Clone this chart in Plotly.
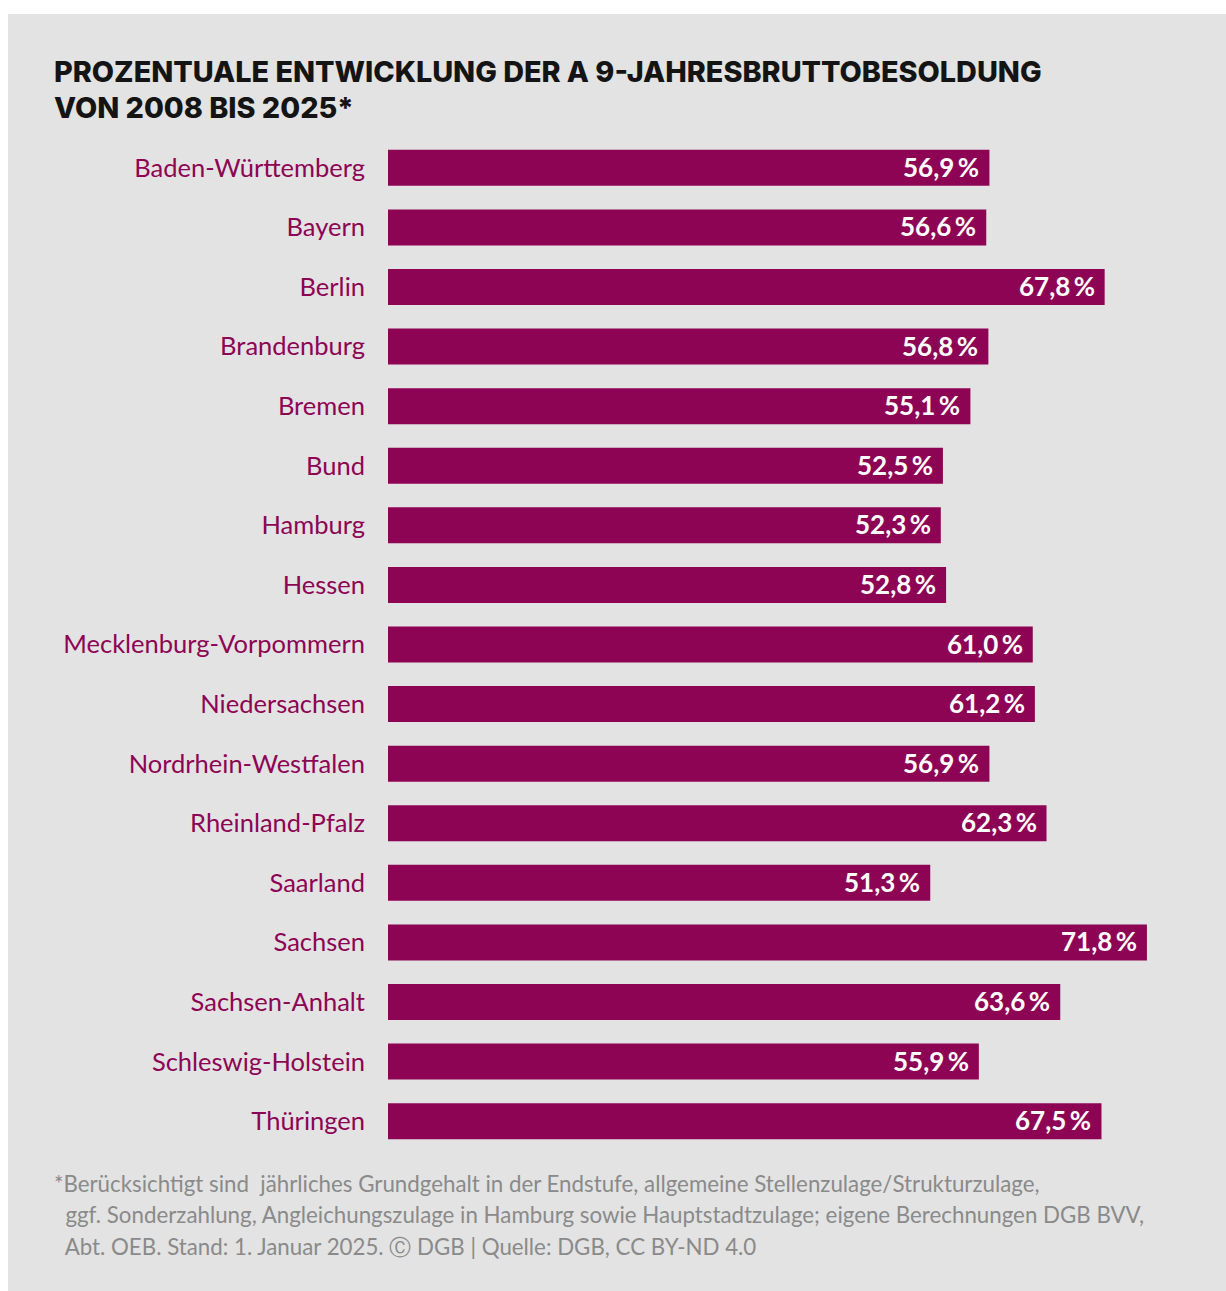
import plotly.graph_objects as go

# Data: percentage change of A 9 annual gross pay, 2008 -> 2025
states = [
    "Baden-Württemberg", "Bayern", "Berlin", "Brandenburg", "Bremen", "Bund",
    "Hamburg", "Hessen", "Mecklenburg-Vorpommern", "Niedersachsen",
    "Nordrhein-Westfalen", "Rheinland-Pfalz", "Saarland", "Sachsen",
    "Sachsen-Anhalt", "Schleswig-Holstein", "Thüringen",
]
values = [56.9, 56.6, 67.8, 56.8, 55.1, 52.5, 52.3, 52.8, 61.0, 61.2,
          56.9, 62.3, 51.3, 71.8, 63.6, 55.9, 67.5]

title_lines = ["PROZENTUALE ENTWICKLUNG DER A 9-JAHRESBRUTTOBESOLDUNG",
               "VON 2008 BIS 2025*"]
footnote_lines = [
    "*Berücksichtigt sind  jährliches Grundgehalt in der Endstufe, allgemeine Stellenzulage/Strukturzulage,",
    "  ggf. Sonderzahlung, Angleichungszulage in Hamburg sowie Hauptstadtzulage; eigene Berechnungen DGB BVV,",
    "  Abt. OEB. Stand: 1. Januar 2025. \u24b8 DGB | Quelle: DGB, CC BY-ND 4.0",
]

W, H = 1226, 1291
ML, MR, MT, MB = 388, 14, 138, 140
PW = W - ML - MR
PH = H - MT - MB
XMAX = PW / 10.57

BAR = "#8e0455"
PANEL = "#e2e3e2"
LABEL_FONT = "Lato"

# value labels with a narrow gap before the percent sign
labels = [f"{v:.1f}".replace(".", ",") + '<span style="font-size:14px">&nbsp;</span>%'
          for v in values]

fig = go.Figure(go.Bar(
    x=values, y=states, orientation="h",
    marker=dict(color=BAR, line=dict(width=0)),
    width=0.604, hoverinfo="skip",
))

annotations = []
for s, v, t in zip(states, values, labels):
    annotations.append(dict(
        x=v, y=s, xref="x", yref="y", text=t, showarrow=False,
        xanchor="right", yanchor="middle", xshift=-8, yshift=1,
        font=dict(family=LABEL_FONT, size=26, color="white", weight="bold"),
    ))

# title
for i, line in enumerate(title_lines):
    annotations.append(dict(
        x=(52 - ML) / PW, y=1 + (MT - (72 + i * 35)) / PH,
        xref="paper", yref="paper", text=line, showarrow=False,
        xanchor="left", yanchor="middle",
        font=dict(family="Inter", size=28.8, color="#141414", weight=800),
    ))

# footnote
for i, line in enumerate(footnote_lines):
    annotations.append(dict(
        x=(52 - ML) / PW, y=-((1183 + i * 31.5) - (MT + PH)) / PH,
        xref="paper", yref="paper", text=line.replace("  ", "&nbsp;&nbsp;"),
        showarrow=False, xanchor="left", yanchor="middle",
        font=dict(family=LABEL_FONT, size=22.3, color="#8a8a8a"),
    ))

shapes = [
    # white outer margin around the grey panel
    dict(type="rect", xref="paper", yref="paper",
         x0=(0 - ML) / PW, x1=(8 - ML) / PW,
         y0=-MB / PH - 0.01, y1=1 + MT / PH + 0.01,
         fillcolor="white", line=dict(width=0), layer="below"),
    dict(type="rect", xref="paper", yref="paper",
         x0=(0 - ML) / PW, x1=1 + MR / PW + 0.01,
         y0=1 + (MT - 14) / PH, y1=1 + MT / PH + 0.01,
         fillcolor="white", line=dict(width=0), layer="below"),
]

fig.update_layout(
    width=W, height=H,
    margin=dict(l=ML, r=MR, t=MT, b=MB, pad=0),
    paper_bgcolor=PANEL, plot_bgcolor=PANEL,
    showlegend=False,
    annotations=annotations, shapes=shapes,
    xaxis=dict(range=[0, XMAX], visible=False, fixedrange=True),
    yaxis=dict(
        categoryorder="array", categoryarray=states,
        range=[len(states) - 0.5, -0.5],
        showgrid=False, zeroline=False, showline=False, ticks="",
        ticklabelstandoff=22,
        tickfont=dict(family=LABEL_FONT, size=25.5, color=BAR),
        fixedrange=True,
    ),
)

fig.write_html("out.html", config={"displayModeBar": False})
